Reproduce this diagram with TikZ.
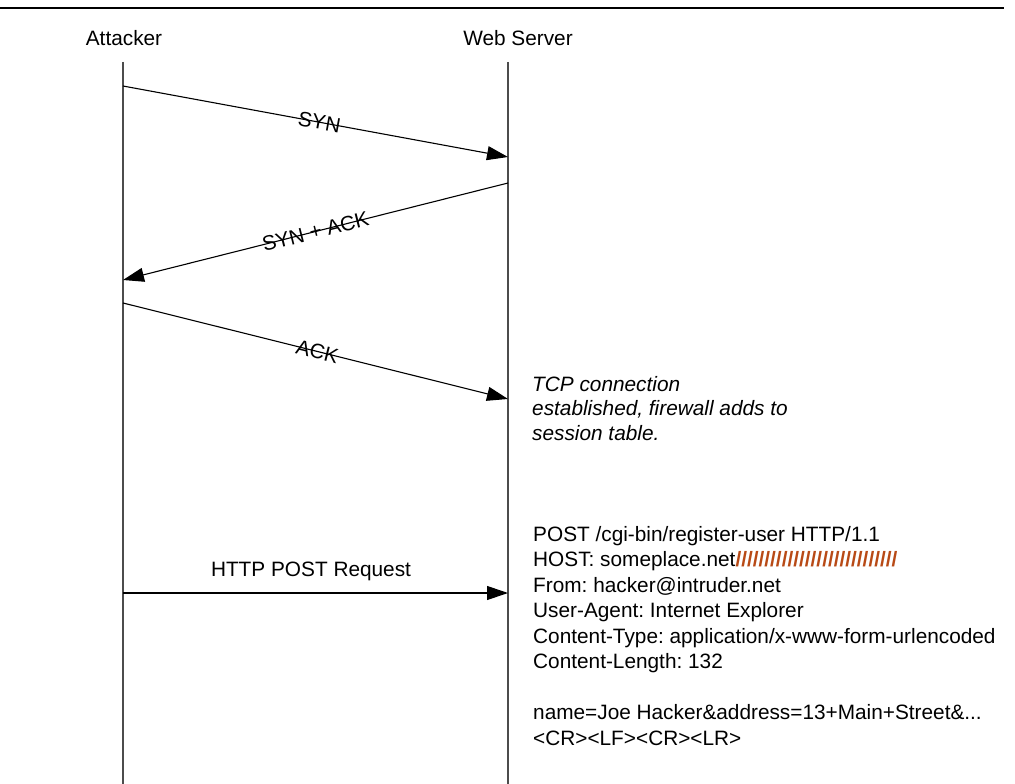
\documentclass[tikz,border=0pt]{standalone}
\usepackage{fontspec}
\setmainfont{Liberation Sans}
\usetikzlibrary{arrows.meta}
\definecolor{hatchc}{RGB}{184,74,22}
\frenchspacing
\begin{document}
\begin{tikzpicture}[x=1pt,y=-1pt,
  lifeline/.style={draw=black!70, line width=1.4pt},
  msg/.style={draw=black, line width=1.1pt, -{Triangle[length=21pt,width=14pt]}},
  lbl/.style={font=\fontsize{20.8}{25.5}\selectfont, inner sep=0pt},
  msglbl/.style={lbl, sloped, pos=0.51},
  note/.style={lbl, align=left, anchor=north west},
]
\useasboundingbox (0,0) rectangle (1015,784);

% header rule
\coordinate (ruleL) at (0,8);
\coordinate (ruleR) at (1004,8);
\draw[line width=2pt] (ruleL) -- (ruleR);

% participants
\node[lbl, anchor=base] (att) at (124,46) {Attacker};
\node[lbl, anchor=base] (web) at (518,46) {Web Server};

% lifelines
\coordinate (a0) at (123,62);  \coordinate (a1) at (123,784);
\coordinate (w0) at (508,62);  \coordinate (w1) at (508,784);
\draw[lifeline] (a0) -- (a1);
\draw[lifeline] (w0) -- (w1);

% handshake end points
\coordinate (synS) at (123,86);   \coordinate (synE) at (508,157);
\coordinate (saS)  at (508,183);  \coordinate (saE)  at (123,280);
\coordinate (ackS) at (123,303);  \coordinate (ackE) at (508,399);
\coordinate (postS) at (123,593); \coordinate (postE) at (508,593);

\draw[msg] (synS) -- node[msglbl] (synL) {SYN} (synE);
\draw[msg] (saS) -- node[msglbl, pos=0.5] (saL) {SYN + ACK} (saE);
\draw[msg] (ackS) -- node[msglbl, pos=0.505] (ackL) {ACK} (ackE);
\draw[msg] (postS) -- (postE);
\node[lbl, anchor=base] (postL) at (311,576) {HTTP POST Request};

% notes at the server
\node[note, font=\fontsize{20.8}{24.5}\selectfont\itshape] (tcp) at (532,376)
  {TCP connection\\established, firewall adds to\\session table.};

\node[note] (req) at (533,526)
  {POST /cgi-bin/register-user HTTP/1.1\\
   HOST: someplace.net{\color{hatchc}\bfseries ////////////////////////////}\\
   From: hacker@intruder.net\\
   User-Agent: Internet Explorer\\
   Content-Type: application/x-www-form-urlencoded\\
   Content-Length: 132\\[25.5pt]
   name=Joe Hacker\&address=13+Main+Street\&...\\
   <CR><LF><CR><LR>};
\end{tikzpicture}
\end{document}
